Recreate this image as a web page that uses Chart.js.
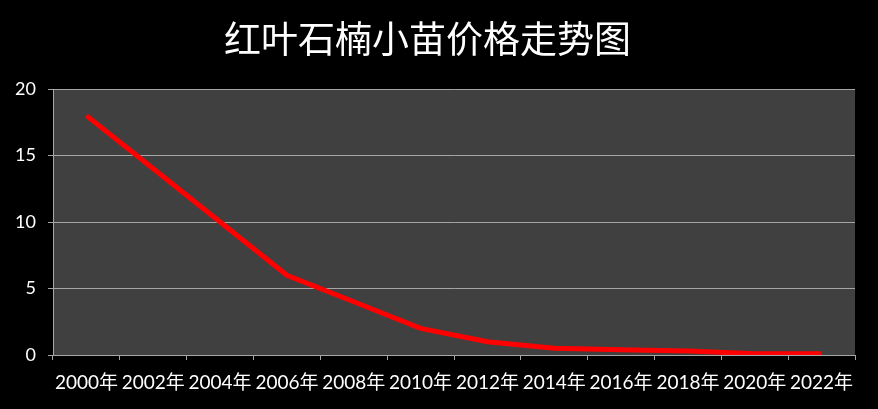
<!DOCTYPE html>
<html>
<head>
<meta charset="utf-8">
<script src="https://cdn.jsdelivr.net/npm/chart.js@4/dist/chart.umd.min.js"></script>
<style>
    html, body { margin: 0; padding: 0; background: #000; }
    #wrap { width: 878px; height: 409px; }
</style>
</head>
<body>
<div id="wrap"><canvas id="priceChart"></canvas></div>
<script>
var years = ['2000年', '2002年', '2004年', '2006年', '2008年', '2010年',
    '2012年', '2014年', '2016年', '2018年', '2020年', '2022年'];
var prices = [18, 14, 10, 6, 4, 2, 1, 0.5, 0.4, 0.3, 0.1, 0.1];
var yTicks = [0, 5, 10, 15, 20];

var fontFamily = "Lato, 'Noto Sans CJK SC', sans-serif";

// black page, dark grey plot area
var backdrop = {
    id: 'backdrop',
    beforeDraw: function (chart) {
        var c = chart.ctx, a = chart.chartArea;
        c.save();
        c.fillStyle = '#000000';
        c.fillRect(0, 0, chart.width, chart.height);
        c.fillStyle = '#404040';
        c.fillRect(a.left, a.top, a.right - a.left, a.bottom - a.top);
        c.restore();
    }
};

var ctx = document.getElementById('priceChart').getContext('2d');

new Chart(ctx, {
    type: 'line',
    data: {
        labels: years,
        datasets: [{
            label: '价格',
            data: prices,
            borderColor: '#ff0000',
            borderWidth: 5,
            pointRadius: 0,
            tension: 0,
            fill: false
        }]
    },
    options: {
        responsive: true,
        maintainAspectRatio: false,
        animation: false,
        layout: {
            padding: { left: 0, right: 23, top: 0, bottom: 0 }
        },
        scales: {
            x: {
                offset: true,
                grid: {
                    offset: true,
                    drawOnChartArea: false,
                    drawTicks: true,
                    tickLength: 5,
                    color: '#a6a6a6'
                },
                border: { color: '#a6a6a6', width: 1 },
                ticks: {
                    color: '#ffffff',
                    autoSkip: false,
                    maxRotation: 0,
                    padding: 11,
                    font: { family: fontFamily, size: 19 }
                },
                afterFit: function (s) { s.height = 54; }
            },
            y: {
                min: 0,
                max: 20,
                afterBuildTicks: function (s) {
                    s.ticks = yTicks.map(function (v) { return { value: v }; });
                },
                grid: {
                    color: '#a6a6a6',
                    tickLength: 5
                },
                border: { color: '#a6a6a6', width: 1 },
                ticks: {
                    color: '#ffffff',
                    padding: 12,
                    font: { family: fontFamily, size: 18 }
                },
                afterFit: function (s) { s.width = 53; }
            }
        },
        plugins: {
            legend: { display: false },
            tooltip: { enabled: false },
            title: {
                display: true,
                text: '红叶石楠小苗价格走势图',
                color: '#ffffff',
                font: { family: "'Noto Sans CJK SC', sans-serif", size: 37, weight: 'normal' },
                padding: { top: 17, bottom: 27.6 }
            }
        }
    },
    plugins: [backdrop]
});
</script>
</body>
</html>
